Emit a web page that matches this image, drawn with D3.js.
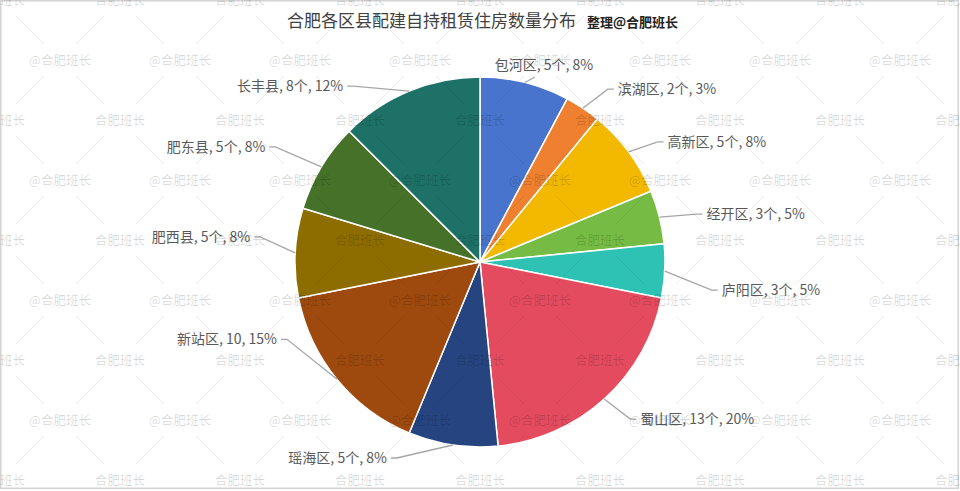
<!DOCTYPE html>
<html>
<head>
<meta charset="utf-8">
<script src="https://cdn.jsdelivr.net/npm/d3@7"></script>
<style>
  html, body { margin: 0; padding: 0; background: #fff; }
  svg { display: block; font-family: "Noto Sans CJK SC", "Microsoft YaHei", sans-serif; }
</style>
</head>
<body>
<svg id="chart" width="960" height="491"></svg>
<script>
// ---- data ----
const categories = ["包河区", "滨湖区", "高新区", "经开区", "庐阳区", "蜀山区", "瑶海区", "新站区", "肥西县", "肥东县", "长丰县"];
const counts     = [5, 2, 5, 3, 3, 13, 5, 10, 5, 5, 8];
const percents   = ["8%", "3%", "8%", "5%", "5%", "20%", "8%", "15%", "8%", "8%", "12%"];
const countLabels = ["5个", "2个", "5个", "3个", "3个", "13个", "5个", "10", "5个", "5个", "8个"];
const titleText = "合肥各区县配建自持租赁住房数量分布";
const subtitleText = "整理@合肥班长";
const watermarkA = "@合肥班长";
const watermarkB = "合肥班长";

// ---- styles / layout ----
const colors = ["#4874CE", "#EE8030", "#F3B800", "#76BC44", "#2EC2B4", "#E54B5F",
                "#264580", "#9E4A0E", "#8E6D00", "#467129", "#1E7167"];
// label text offsets from the slice's outer mid-point (dx, dy, anchor)
const labelLayout = [
  {dx: 19, dy: -17.5, anchor: "middle"},
  {dx: 35, dy: -19, anchor: "start"},
  {dx: 39, dy: -10, anchor: "start"},
  {dx: 47, dy: -3, anchor: "start"},
  {dx: 57, dy: 19, anchor: "start"},
  {dx: 36, dy: 20, anchor: "start"},
  {dx: -66, dy: 13, anchor: "end"},
  {dx: -60, dy: -40, anchor: "end"},
  {dx: -45, dy: -16, anchor: "end"},
  {dx: -56, dy: -20, anchor: "end"},
  {dx: -66, dy: -5, anchor: "end"}
];

const W = 960, H = 491;
const cx = 480, cy = 262, R = 185;
const svg = d3.select("#chart");

// frame
svg.append("rect").attr("x", 0.75).attr("y", 0.75).attr("width", 957.5).attr("height", 487.5)
  .attr("fill", "#fff").attr("stroke", "#d4d4d4").attr("stroke-width", 1.5);

// title
const title = svg.append("text").attr("x", 287).attr("y", 27)
  .attr("font-size", 17).attr("fill", "#404040");
title.append("tspan").text(titleText);
title.append("tspan").attr("dx", 11).attr("font-size", 13).attr("font-weight", "bold")
  .attr("fill", "#222").text(subtitleText);

// pie
const pie = d3.pie().sort(null).value(d => d).startAngle(0).endAngle(2 * Math.PI);
const arcs = pie(counts);
const arc = d3.arc().innerRadius(0).outerRadius(R);
const g = svg.append("g").attr("transform", `translate(${cx},${cy})`);
g.selectAll("path.slice").data(arcs).enter().append("path")
  .attr("class", "slice")
  .attr("d", arc)
  .attr("fill", (d, i) => colors[i])
  .attr("stroke", "#fff").attr("stroke-width", 1.5).attr("stroke-linejoin", "round");

// labels
const edgeArc = d3.arc().innerRadius(R).outerRadius(R);
arcs.forEach((d, i) => {
  const [ex, ey] = edgeArc.centroid(d);
  const L = labelLayout[i];
  const tx = ex + L.dx, ty = ey + L.dy;
  let pts;
  if (L.anchor === "start") pts = [[ex, ey], [tx - 10, ty], [tx - 4, ty]];
  else if (L.anchor === "end") pts = [[ex, ey], [tx + 10, ty], [tx + 4, ty]];
  else pts = [[ex, ey], [tx - 9, ty + 12]];
  g.append("path").attr("d", d3.line()(pts)).attr("fill", "none")
    .attr("stroke", "#a6a6a6").attr("stroke-width", 1.3);
  g.append("text").attr("x", tx).attr("y", ty).attr("dy", "0.36em")
    .attr("text-anchor", L.anchor).attr("font-size", 14).attr("fill", "#595959")
    .text(`${categories[i]}, ${countLabels[i]}, ${percents[i]}`);
});

// watermark overlay
const wm = svg.append("g").attr("pointer-events", "none");
const centers = [];
for (let j = 0; j <= 8; j++) {
  for (let i = 0; i <= 8; i++) {
    const x = (j % 2 === 1) ? 60 + 120 * i : 120 * i;
    if (x - 35 < W) centers.push({x: x, y: 60 * j, t: (j % 2 === 1) ? watermarkA : watermarkB});
  }
}
const segs = [];
centers.forEach(c => {
  [[1, 1], [-1, 1], [1, -1], [-1, -1]].forEach(([sx, sy]) => {
    // draw each diagonal span once (toward +y), plus the top edge spans
    if (sy < 0 && c.y > 0) return;
    segs.push([[c.x + sx * 16, c.y + sy * 16], [c.x + sx * 44, c.y + sy * 44]]);
  });
});
wm.selectAll("path.diag").data(segs).enter().append("path")
  .attr("class", "diag")
  .attr("d", d => d3.line()(d))
  .attr("stroke", "#000").attr("stroke-opacity", 0.07).attr("stroke-width", 1);
wm.selectAll("text.wm").data(centers).enter().append("text")
  .attr("class", "wm")
  .attr("x", d => d.x).attr("y", d => d.y).attr("dy", "0.36em")
  .attr("text-anchor", "middle").attr("font-size", 12.5)
  .attr("fill", "#000").attr("fill-opacity", 0.16)
  .text(d => d.t);
</script>
</body>
</html>
